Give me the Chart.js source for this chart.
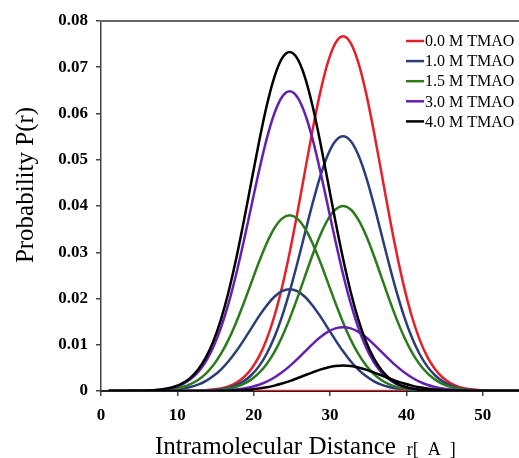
<!DOCTYPE html>
<html>
<head>
<meta charset="utf-8">
<script src="https://cdn.jsdelivr.net/npm/chart.js@4.4.1/dist/chart.umd.min.js"></script>
<style>
  html, body { margin: 0; padding: 0; background: #fff; overflow: hidden; }
  #wrap { width: 525px; height: 458px; }
</style>
</head>
<body>
<div id="wrap"><canvas id="chart" width="525" height="458"></canvas></div>
<script>
// r positions (A) shared by all curves
const rValues = [1, 4.7, 5.7, 6.7, 7.7, 8.7, 9.7, 10.7, 11.7, 12.7, 13.7, 14.7, 15.7, 16.7, 17.7, 18.7, 19.7,
  20.7, 21.7, 22.7, 23.7, 24.7, 25.7, 26.7, 27.7, 28.7, 29.7, 30.7, 31.7, 32.7, 33.7, 34.7, 35.7, 36.7,
  37.7, 38.7, 39.7, 40.7, 41.7, 42.7, 43.7, 44.7, 45.7, 46.7, 47.7, 48.7, 49.7, 50.7, 51.7, 52.7, 55];

// each concentration: compact peak near r = 24.7, extended peak near r = 31.7
const tmao00Ext = [0, 0, 0, 0, 0, 0, 0.00001, 0.00002, 0.00004, 0.00007, 0.00015,
  0.0003, 0.00056, 0.00101, 0.00177, 0.00298, 0.00482, 0.00749, 0.01122, 0.01616, 0.02241,
  0.0299, 0.03839, 0.04743, 0.05639, 0.06451, 0.07102, 0.07524, 0.0767, 0.07524, 0.07102,
  0.06451, 0.05639, 0.04743, 0.03839, 0.0299, 0.02241, 0.01616, 0.01122, 0.00749, 0.00482,
  0.00298, 0.00177, 0.00101, 0.00056, 0.0003, 0.00015, 0.00007, 0.00004, 0.00002, 0];
const tmao00CompR = [20, 40];
const tmao00Comp = [0, 0];

const tmao10Comp = [0, 0.00001, 0.00002, 0.00004, 0.00009, 0.00016,
  0.00029, 0.00051, 0.00085, 0.00138, 0.00215, 0.00322, 0.00464, 0.00643, 0.00858, 0.01101,
  0.01361, 0.01618, 0.0185, 0.02037, 0.02158, 0.022, 0.02158, 0.02037, 0.0185, 0.01618,
  0.01361, 0.01101, 0.00858, 0.00643, 0.00464, 0.00322, 0.00215, 0.00138, 0.00085, 0.00051,
  0.00029, 0.00016, 0.00009, 0.00004, 0.00002, 0.00001, 0, 0, 0, 0, 0, 0, 0, 0, 0];
const tmao10Ext = [0, 0, 0, 0, 0, 0, 0, 0.00001, 0.00003, 0.00005, 0.00011,
  0.00021, 0.0004, 0.00073, 0.00127, 0.00214, 0.00346, 0.00538, 0.00806, 0.01161, 0.0161,
  0.02148, 0.02758, 0.03408, 0.04051, 0.04635, 0.05102, 0.05405, 0.0551, 0.05405, 0.05102,
  0.04635, 0.04051, 0.03408, 0.02758, 0.02148, 0.0161, 0.01161, 0.00806, 0.00538, 0.00346,
  0.00214, 0.00127, 0.00073, 0.0004, 0.00021, 0.00011, 0.00005, 0.00003, 0.00001, 0];

const tmao15Comp = [0, 0.00002, 0.00004, 0.00007, 0.00015, 0.00028,
  0.0005, 0.00088, 0.00148, 0.00239, 0.00371, 0.00556, 0.00801, 0.0111, 0.01482, 0.01902,
  0.0235, 0.02794, 0.03196, 0.03519, 0.03728, 0.038, 0.03728, 0.03519, 0.03196, 0.02794,
  0.0235, 0.01902, 0.01482, 0.0111, 0.00801, 0.00556, 0.00371, 0.00239, 0.00148, 0.00088,
  0.0005, 0.00028, 0.00015, 0.00007, 0.00004, 0.00002, 0.00001, 0, 0, 0, 0, 0, 0, 0, 0];
const tmao15Ext = [0, 0, 0, 0, 0, 0, 0, 0.00001, 0.00002, 0.00004, 0.00008,
  0.00015, 0.00029, 0.00053, 0.00092, 0.00155, 0.00251, 0.00391, 0.00585, 0.00843, 0.01169,
  0.0156, 0.02002, 0.02474, 0.02941, 0.03365, 0.03704, 0.03924, 0.04, 0.03924, 0.03704,
  0.03365, 0.02941, 0.02474, 0.02002, 0.0156, 0.01169, 0.00843, 0.00585, 0.00391, 0.00251,
  0.00155, 0.00092, 0.00053, 0.00029, 0.00015, 0.00008, 0.00004, 0.00002, 0.00001, 0];

const tmao30Comp = [0, 0.00003, 0.00006, 0.00013, 0.00025, 0.00047,
  0.00086, 0.0015, 0.00252, 0.00407, 0.00633, 0.00948, 0.01366, 0.01893, 0.02526, 0.03244,
  0.04007, 0.04764, 0.05451, 0.06, 0.06357, 0.0648, 0.06357, 0.06, 0.05451, 0.04764,
  0.04007, 0.03244, 0.02526, 0.01893, 0.01366, 0.00948, 0.00633, 0.00407, 0.00252, 0.0015,
  0.00086, 0.00047, 0.00025, 0.00013, 0.00006, 0.00003, 0.00001, 0.00001, 0, 0, 0, 0, 0, 0, 0];
const tmao30Ext = [0, 0, 0, 0, 0, 0, 0, 0, 0.00001, 0.00001, 0.00003,
  0.00005, 0.0001, 0.00018, 0.00032, 0.00054, 0.00087, 0.00135, 0.00202, 0.00291, 0.00403,
  0.00538, 0.00691, 0.00853, 0.01015, 0.01161, 0.01278, 0.01354, 0.0138, 0.01354, 0.01278,
  0.01161, 0.01015, 0.00853, 0.00691, 0.00538, 0.00403, 0.00291, 0.00202, 0.00135, 0.00087,
  0.00054, 0.00032, 0.00018, 0.0001, 0.00005, 0.00003, 0.00001, 0.00001, 0, 0];

const tmao40Comp = [0, 0.00003, 0.00007, 0.00014, 0.00028, 0.00053,
  0.00097, 0.00169, 0.00285, 0.0046, 0.00716, 0.01072, 0.01545, 0.02142, 0.02858, 0.03669,
  0.04533, 0.05389, 0.06166, 0.06788, 0.0719, 0.0733, 0.0719, 0.06788, 0.06166, 0.05389,
  0.04533, 0.03669, 0.02858, 0.02142, 0.01545, 0.01072, 0.00716, 0.0046, 0.00285, 0.00169,
  0.00097, 0.00053, 0.00028, 0.00014, 0.00007, 0.00003, 0.00002, 0.00001, 0, 0, 0, 0, 0, 0, 0];
const tmao40Ext = [0, 0, 0, 0, 0, 0, 0, 0, 0, 0.00001, 0.00001,
  0.00002, 0.00004, 0.00007, 0.00013, 0.00021, 0.00035, 0.00054, 0.0008, 0.00116, 0.00161,
  0.00214, 0.00275, 0.0034, 0.00404, 0.00463, 0.00509, 0.0054, 0.0055, 0.0054, 0.00509,
  0.00463, 0.00404, 0.0034, 0.00275, 0.00214, 0.00161, 0.00116, 0.0008, 0.00054, 0.00035,
  0.00021, 0.00013, 0.00007, 0.00004, 0.00002, 0.00001, 0.00001, 0, 0, 0];

const seriesLabels = ["0.0 M TMAO", "1.0 M TMAO", "1.5 M TMAO", "3.0 M TMAO", "4.0 M TMAO"];
const seriesColors = ["#e5202a", "#2b3d78", "#2d7a1c", "#6420b0", "#000000"];

const xTicks = [0, 10, 20, 30, 40, 50];
const yTicks = [0, 0.01, 0.02, 0.03, 0.04, 0.05, 0.06, 0.07, 0.08];

function curve(xs, ys, color) {
  return {
    data: xs.map((x, i) => ({ x: x, y: ys[i] })),
    borderColor: color,
    borderWidth: 2.5,
    pointRadius: 0,
    fill: false,
    cubicInterpolationMode: "monotone",
  };
}

// first dataset is painted on top
const datasets = [
  curve(tmao00CompR, tmao00Comp, seriesColors[0]),
  curve(rValues, tmao40Comp, seriesColors[4]),
  curve(rValues, tmao40Ext, seriesColors[4]),
  curve(rValues, tmao30Comp, seriesColors[3]),
  curve(rValues, tmao30Ext, seriesColors[3]),
  curve(rValues, tmao15Comp, seriesColors[2]),
  curve(rValues, tmao15Ext, seriesColors[2]),
  curve(rValues, tmao10Comp, seriesColors[1]),
  curve(rValues, tmao10Ext, seriesColors[1]),
  curve(rValues, tmao00Ext, seriesColors[0]),
];

const decorations = {
  id: "decorations",
  beforeDatasetsDraw(chart) {
    const { ctx, chartArea } = chart;
    ctx.save();
    ctx.strokeStyle = "#666";
    ctx.lineWidth = 2;
    ctx.beginPath();
    ctx.moveTo(chartArea.left - 1, chartArea.top);
    ctx.lineTo(chart.width, chartArea.top);
    ctx.stroke();
    ctx.restore();
  },
  afterDraw(chart) {
    const ctx = chart.ctx;
    ctx.save();
    ctx.fillStyle = "#000";

    // y title
    ctx.save();
    ctx.translate(33, 185);
    ctx.rotate(-Math.PI / 2);
    ctx.font = '25px "Liberation Serif"';
    ctx.textAlign = "center";
    ctx.textBaseline = "alphabetic";
    ctx.fillText("Probability P(r)", 0, 0);
    ctx.restore();

    // x title
    ctx.font = '25px "Liberation Serif"';
    ctx.textAlign = "left";
    ctx.textBaseline = "alphabetic";
    const main = "Intramolecular Distance";
    ctx.fillText(main, 155, 454);
    const w = ctx.measureText(main).width;
    ctx.font = '18px "Liberation Serif"';
    ctx.fillText("r[  A  ]", 155 + w + 11, 455);

    // legend
    ctx.font = '16px "Liberation Serif"';
    ctx.textBaseline = "middle";
    seriesLabels.forEach((label, i) => {
      const y = 41 + i * 20.1;
      ctx.strokeStyle = seriesColors[i];
      ctx.lineWidth = 2.5;
      ctx.beginPath();
      ctx.moveTo(406, y);
      ctx.lineTo(424, y);
      ctx.stroke();
      ctx.fillText(label, 425, y + 1);
    });
    ctx.restore();
  },
};

const tickFont = { family: "Liberation Serif", size: 17, weight: "bold" };

new Chart(document.getElementById("chart"), {
  type: "line",
  data: { datasets },
  options: {
    responsive: false,
    animation: false,
    layout: { padding: { top: 21, right: 4, left: 0, bottom: 0 } },
    plugins: { legend: { display: false }, tooltip: { enabled: false } },
    scales: {
      x: {
        type: "linear",
        min: 0,
        max: 55,
        afterBuildTicks: (scale) => { scale.ticks = xTicks.map((v) => ({ value: v })); },
        afterFit: (scale) => { scale.height = 67; },
        ticks: { font: tickFont, color: "#000", padding: 9 },
        grid: { drawOnChartArea: false, drawTicks: true, tickLength: 5, color: "#444", lineWidth: 1.5 },
        border: { display: true, color: "#222", width: 2 },
      },
      y: {
        min: 0,
        max: 0.08,
        afterBuildTicks: (scale) => { scale.ticks = yTicks.map((v) => ({ value: v })); },
        afterFit: (scale) => { scale.width = 101; },
        ticks: {
          font: tickFont,
          color: "#000",
          padding: 8,
          callback: (v) => (v === 0 ? "0" : v.toFixed(2)),
        },
        grid: { drawOnChartArea: false, drawTicks: true, tickLength: 5, color: "#444", lineWidth: 1.5 },
        border: { display: true, color: "#444", width: 1.5 },
      },
    },
  },
  plugins: [decorations],
});
</script>
</body>
</html>
